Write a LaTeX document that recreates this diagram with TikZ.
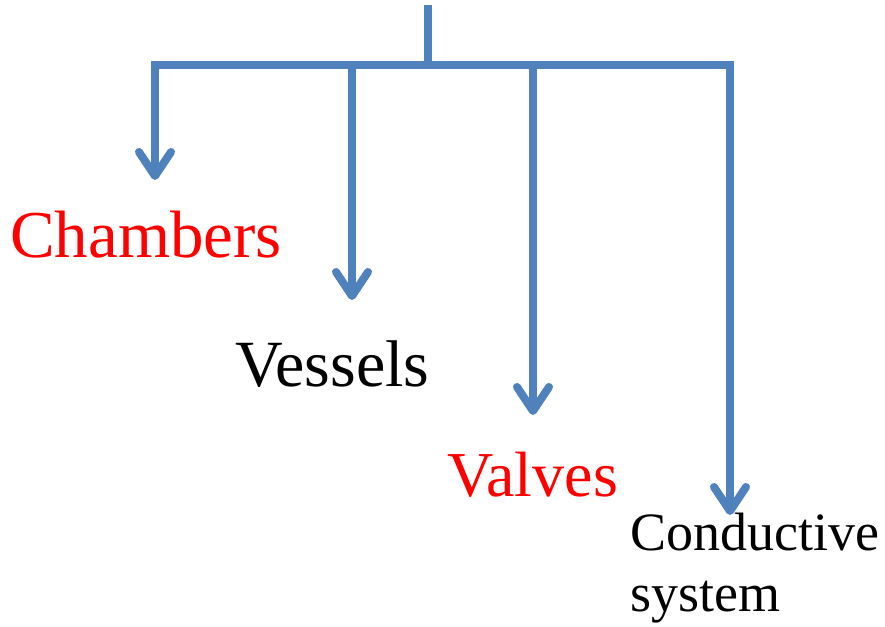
\documentclass[tikz,border=0pt]{standalone}
\usepackage{fontspec}
\setmainfont{Liberation Serif}
\usetikzlibrary{arrows.meta}
\definecolor{barblue}{HTML}{4F81BD}
\definecolor{labred}{HTML}{FF0000}
\tikzset{
  bar/.style={draw=barblue, line width=8pt},
  arr/.style={draw=barblue, line width=8pt, -{Straight Barb[length=24pt, width=32pt, line cap=round, line join=round]}},
  lab/.style={inner sep=0pt, anchor=base west},
}
\begin{document}
\begin{tikzpicture}[x=1pt,y=1pt]
\useasboundingbox (0,0) rectangle (885,626);
% coordinates
\coordinate (top) at (428,621);
\coordinate (hub) at (428,561);
\coordinate (b1) at (155,561);
\coordinate (b2) at (352,561);
\coordinate (b3) at (533,561);
\coordinate (b4) at (730,561);
\coordinate (t1) at (155,446);
\coordinate (t2) at (352,326);
\coordinate (t3) at (533,211);
\coordinate (t4) at (730,111);
% connectors
\draw[bar] (top) -- (hub);
\draw[bar, line cap=rect] (b1) -- (b4);
\draw[arr] (b1) -- (t1);
\draw[arr] (b2) -- (t2);
\draw[arr] (b3) -- (t3);
\draw[arr] (b4) -- (t4);
% labels
\node[lab, text=labred, font=\fontsize{67}{72}\selectfont] (chambers) at (10,368) {Chambers};
\node[lab, text=black, font=\fontsize{66}{70}\selectfont] (vessels) at (235,239) {Vessels};
\node[lab, text=labred, font=\fontsize{64}{68}\selectfont] (valves) at (447,129) {Valves};
\node[inner sep=0pt, anchor=north west, align=left, text=black, font=\fontsize{54}{61}\selectfont] (cond) at (630,113) {Conductive\\system};
\end{tikzpicture}
\end{document}
